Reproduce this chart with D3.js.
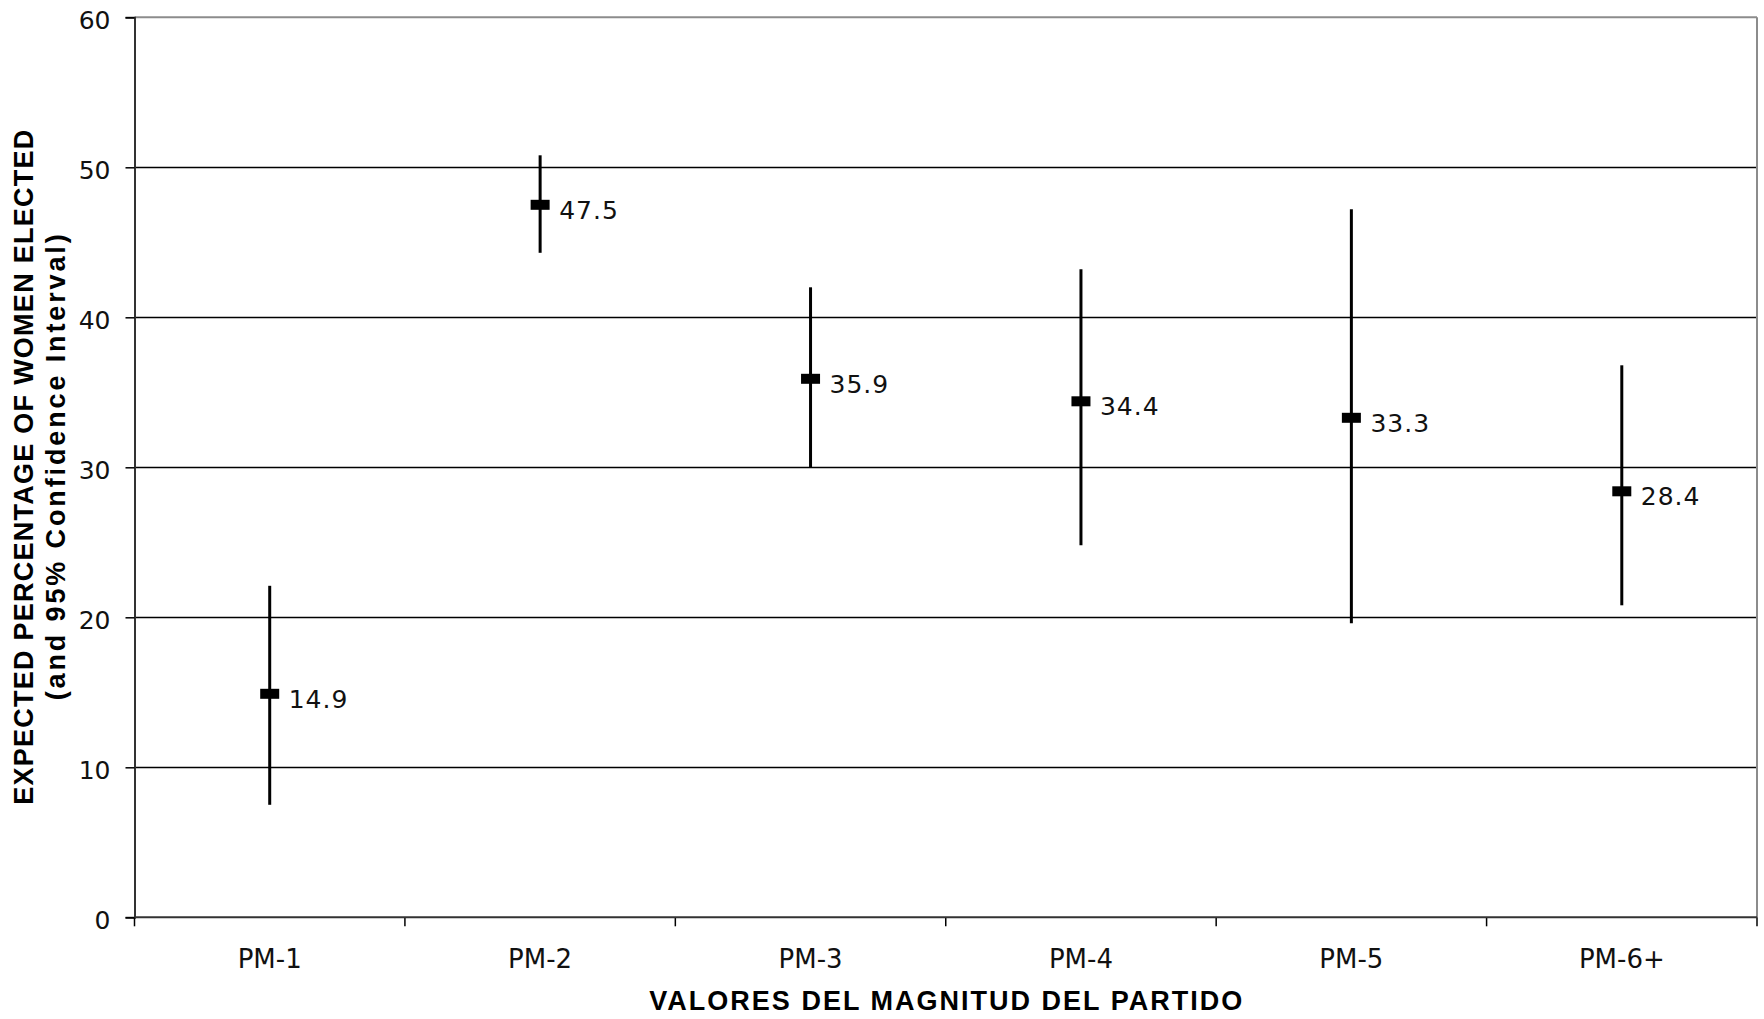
<!DOCTYPE html>
<html>
<head>
<meta charset="utf-8">
<script src="https://cdn.jsdelivr.net/npm/d3@7"></script>
<style>
  html, body { margin: 0; padding: 0; background: #fff; }
  svg { display: block; }
</style>
</head>
<body>
<svg id="chart" width="1764" height="1019"></svg>
<script>
// ---- data ----
const categories = ["PM-1", "PM-2", "PM-3", "PM-4", "PM-5", "PM-6+"];
const expected   = [14.9, 47.5, 35.9, 34.4, 33.3, 28.4];
const lower95    = [7.5, 44.3, 30.0, 24.8, 19.6, 20.8];
const upper95    = [22.1, 50.8, 42.0, 43.2, 47.2, 36.8];
const yTicks     = [0, 10, 20, 30, 40, 50, 60];
const yTitle1 = "EXPECTED PERCENTAGE OF WOMEN ELECTED";
const yTitle2 = "(and 95% Confidence Interval)";
const xTitle  = "VALORES DEL MAGNITUD DEL PARTIDO";

// ---- layout ----
const L = 134.5, R = 1757, T = 17.3, B = 917.3;
const svg = d3.select("#chart");
const x = d3.scaleBand().domain(categories).range([L, R]).padding(0);
const y = d3.scaleLinear().domain([0, 60]).range([B, T]);
const tickFont = "'DejaVu Sans', Verdana, sans-serif";
const titleFont = "'Liberation Sans', Arial, sans-serif";

// gridlines
svg.append("g").selectAll("line").data(yTicks.filter(d => d > 0 && d < 60)).join("line")
  .attr("x1", L).attr("x2", R).attr("y1", d => Math.round(y(d)) + 0.5).attr("y2", d => Math.round(y(d)) + 0.5)
  .attr("stroke", "#000").attr("stroke-width", 1.5);

// plot border top/right (gray)
svg.append("line").attr("x1", L).attr("x2", R).attr("y1", T).attr("y2", T)
  .attr("stroke", "#8c8c8c").attr("stroke-width", 2);
svg.append("line").attr("x1", R).attr("x2", R).attr("y1", T).attr("y2", B)
  .attr("stroke", "#8c8c8c").attr("stroke-width", 2);

// Y axis
const yAxis = svg.append("g").attr("transform", `translate(${L},0)`)
  .call(d3.axisLeft(y).tickValues(yTicks).tickSize(9).tickPadding(15).tickFormat(d3.format("d")));
yAxis.select(".domain").attr("stroke", "#333").attr("stroke-width", 2);
yAxis.selectAll(".tick line").attr("stroke", "#000").attr("stroke-width", 1.5);
yAxis.selectAll(".tick text").attr("font-family", tickFont).attr("font-size", 25)
  .attr("fill", "#111").attr("dy", "0.44em");

// X axis (labels at band centres, ticks at band boundaries)
const xAxis = svg.append("g").attr("transform", `translate(0,${B})`)
  .call(d3.axisBottom(x).tickSize(0).tickPadding(0));
xAxis.select(".domain").remove();
xAxis.selectAll(".tick text").attr("font-family", tickFont).attr("font-size", 26)
  .attr("fill", "#111").attr("dy", null).attr("y", 51);
const bounds = categories.map(c => x(c)).concat([x(categories[categories.length - 1]) + x.bandwidth()]);
svg.append("g").selectAll("line").data(bounds).join("line")
  .attr("x1", d => d).attr("x2", d => d).attr("y1", B).attr("y2", B + 9)
  .attr("stroke", "#000").attr("stroke-width", 1.5);
svg.append("line").attr("x1", L).attr("x2", R).attr("y1", B).attr("y2", B)
  .attr("stroke", "#333").attr("stroke-width", 2);

// error bars
const cx = i => x(categories[i]) + x.bandwidth() / 2;
const marks = svg.append("g");
marks.selectAll("line.err").data(categories).join("line").attr("class", "err")
  .attr("x1", (d, i) => cx(i)).attr("x2", (d, i) => cx(i))
  .attr("y1", (d, i) => y(upper95[i])).attr("y2", (d, i) => y(lower95[i]))
  .attr("stroke", "#000").attr("stroke-width", 3);
marks.selectAll("rect.pt").data(categories).join("rect").attr("class", "pt")
  .attr("x", (d, i) => cx(i) - 9.5).attr("y", (d, i) => y(expected[i]) - 5)
  .attr("width", 19).attr("height", 10).attr("fill", "#000");
marks.selectAll("text.lbl").data(categories).join("text").attr("class", "lbl")
  .attr("x", (d, i) => cx(i) + 19).attr("y", (d, i) => y(expected[i]) + 14)
  .attr("font-family", tickFont).attr("font-size", 25).attr("letter-spacing", 1).attr("fill", "#111")
  .text((d, i) => expected[i].toFixed(1));

// titles
const yMid = (T + B) / 2;
svg.append("text").attr("transform", `translate(33,${yMid}) rotate(-90)`)
  .attr("text-anchor", "middle").attr("font-family", titleFont).attr("font-weight", "bold")
  .attr("font-size", 27).attr("textLength", 675).attr("lengthAdjust", "spacing")
  .attr("fill", "#000").text(yTitle1);
svg.append("text").attr("transform", `translate(65,${yMid}) rotate(-90)`)
  .attr("text-anchor", "middle").attr("font-family", titleFont).attr("font-weight", "bold")
  .attr("font-size", 27).attr("textLength", 466).attr("lengthAdjust", "spacing")
  .attr("fill", "#000").text(yTitle2);
svg.append("text").attr("x", (L + R) / 2).attr("y", 1010)
  .attr("text-anchor", "middle").attr("font-family", titleFont).attr("font-weight", "bold")
  .attr("font-size", 27).attr("textLength", 593).attr("lengthAdjust", "spacing")
  .attr("fill", "#000").text(xTitle);
</script>
</body>
</html>
